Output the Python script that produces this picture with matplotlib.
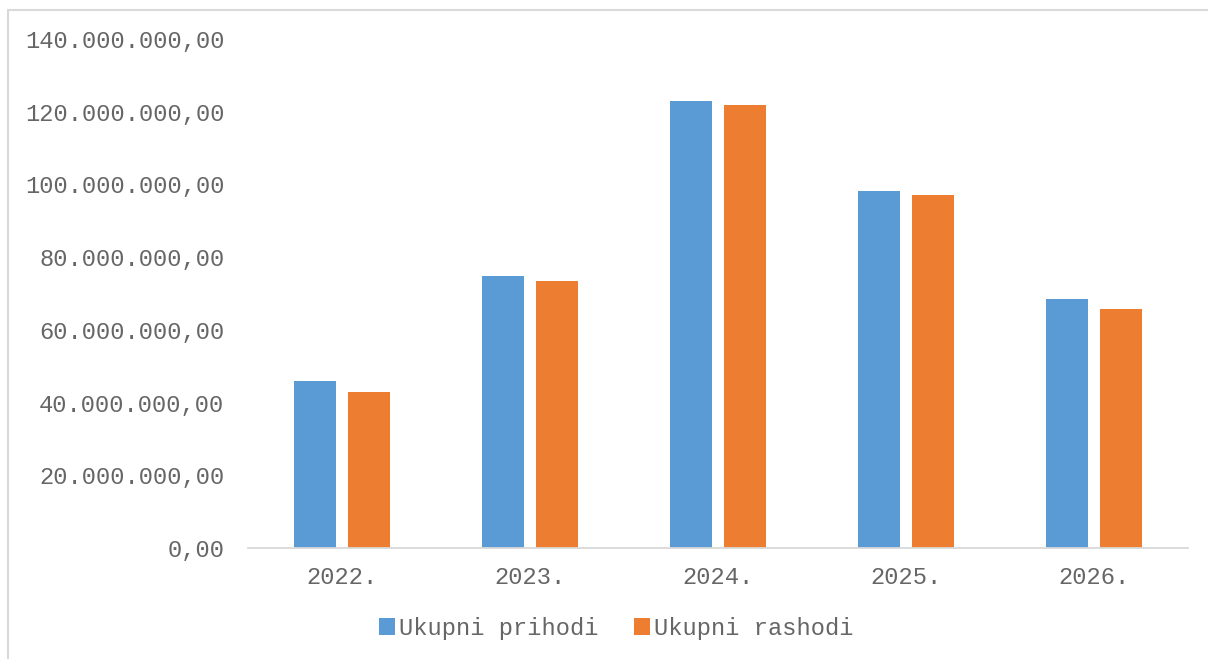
import matplotlib.pyplot as plt
import numpy as np
from matplotlib.patches import Rectangle
from matplotlib.ticker import FuncFormatter

godine = ["2022.", "2023.", "2024.", "2025.", "2026."]
prihodi = [45.9e6, 74.8e6, 122.9e6, 98.2e6, 68.5e6]
rashodi = [42.9e6, 73.4e6, 121.8e6, 97.1e6, 65.7e6]

plt.rcParams['font.family'] = ['Liberation Mono', 'DejaVu Sans']

fig = plt.figure(figsize=(12.08, 6.59), dpi=100)
ax = fig.add_axes([248 / 1208, 1 - 548 / 659, 940 / 1208, 509 / 659])

x = np.arange(len(godine))
w = 0.223
ax.bar(x - 0.1436, prihodi, w, color="#5b9bd5", label="Ukupni prihodi")
ax.bar(x + 0.1436, rashodi, w, color="#ed7d31", label="Ukupni rashodi")

ax.set_xlim(-0.5, 4.5)
ax.set_ylim(0, 140e6)
ax.set_yticks(np.arange(0, 140e6 + 1, 20e6))


def fmt(v, pos):
    s = "{:,.2f}".format(v)
    return s.replace(",", "X").replace(".", ",").replace("X", ".")


ax.yaxis.set_major_formatter(FuncFormatter(fmt))
ax.set_xticks(x)
ax.set_xticklabels(godine)
ax.tick_params(axis="both", length=0, labelsize=17.1, colors="#666666")
ax.tick_params(axis="y", pad=17)
ax.tick_params(axis="x", pad=13)
for s in ["top", "right", "left"]:
    ax.spines[s].set_visible(False)
ax.spines["bottom"].set_color("#d9d9d9")
ax.spines["bottom"].set_linewidth(1.3)

leg = fig.legend(loc="center", bbox_to_anchor=(616 / 1208, 1 - 628 / 659), ncol=2,
                 frameon=False, fontsize=17.1, handlelength=0.7, handleheight=0.7,
                 handletextpad=0.15, columnspacing=1.5)
for t in leg.get_texts():
    t.set_color("#666666")

fig.patches.append(Rectangle((8 / 1208, -0.1), 1.2, 1 - 10 / 659 + 0.1, transform=fig.transFigure,
                             fill=False, edgecolor="#d9d9d9", linewidth=1.5))

fig.savefig("out.png", dpi=100)
